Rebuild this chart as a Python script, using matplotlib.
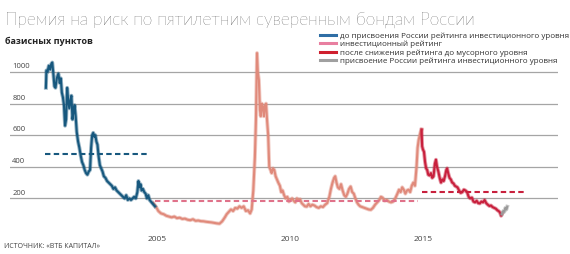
import matplotlib
matplotlib.use("Agg")
import matplotlib.pyplot as plt
from matplotlib.lines import Line2D

plt.rcParams['font.family'] = ['Open Sans', 'DejaVu Sans']

# CDS spread, basis points
blue_years = [2000.82, 2000.84, 2000.88, 2000.93, 2000.98, 2001.02, 2001.06, 2001.10, 2001.14, 2001.18,
              2001.23, 2001.29, 2001.34, 2001.38, 2001.42, 2001.46, 2001.50, 2001.54, 2001.58, 2001.62,
              2001.66, 2001.70, 2001.74, 2001.78, 2001.82, 2001.86, 2001.90, 2001.94, 2001.98, 2002.03,
              2002.08, 2002.13, 2002.18, 2002.23, 2002.28, 2002.33, 2002.38, 2002.43, 2002.48, 2002.52,
              2002.56, 2002.60, 2002.64, 2002.68, 2002.72, 2002.76, 2002.80, 2002.85, 2002.90, 2002.95,
              2003.00, 2003.06, 2003.12, 2003.18, 2003.24, 2003.30, 2003.36, 2003.42, 2003.48, 2003.54,
              2003.60, 2003.66, 2003.72, 2003.78, 2003.84, 2003.90, 2003.96, 2004.02, 2004.08, 2004.14,
              2004.20, 2004.26, 2004.30, 2004.34, 2004.38, 2004.42, 2004.47, 2004.52, 2004.57, 2004.62,
              2004.67, 2004.72, 2004.77, 2004.82, 2004.87, 2004.92]
blue_vals = [900, 1010, 1000, 1040, 1015, 1050, 1060, 990, 910, 900,
             960, 990, 930, 960, 870, 840, 790, 660, 700, 900,
             820, 770, 820, 850, 700, 750, 790, 720, 620, 560,
             520, 470, 430, 410, 380, 360, 350, 370, 380, 520,
             600, 615, 590, 600, 560, 540, 470, 410, 390, 370,
             340, 330, 310, 300, 290, 280, 260, 270, 250, 240,
             230, 220, 210, 200, 220, 190, 200, 190, 200, 210,
             200, 240, 310, 270, 290, 250, 260, 240, 230, 200,
             220, 190, 180, 170, 160, 150]

pink_years = [2004.86, 2004.95, 2005.05, 2005.15, 2005.25, 2005.35, 2005.45, 2005.55, 2005.65, 2005.75,
              2005.85, 2005.95, 2006.05, 2006.15, 2006.25, 2006.35, 2006.45, 2006.55, 2006.65, 2006.75,
              2006.85, 2006.95, 2007.05, 2007.15, 2007.25, 2007.35, 2007.45, 2007.55, 2007.62, 2007.70,
              2007.78, 2007.86, 2007.94, 2008.02, 2008.10, 2008.18, 2008.26, 2008.34, 2008.42, 2008.50,
              2008.56, 2008.62, 2008.68, 2008.72, 2008.76, 2008.79, 2008.83, 2008.87, 2008.90, 2008.94,
              2008.98, 2009.02, 2009.06, 2009.10, 2009.14, 2009.18, 2009.22, 2009.27, 2009.31, 2009.36,
              2009.41, 2009.46, 2009.51, 2009.56, 2009.62, 2009.67, 2009.72, 2009.78, 2009.84, 2009.90,
              2009.96, 2010.02, 2010.08, 2010.14, 2010.20, 2010.26, 2010.32, 2010.38, 2010.44, 2010.50,
              2010.56, 2010.63, 2010.70, 2010.77, 2010.84, 2010.92, 2011.00, 2011.08, 2011.16, 2011.24,
              2011.32, 2011.40, 2011.48, 2011.54, 2011.60, 2011.66, 2011.70, 2011.75, 2011.80, 2011.86,
              2011.92, 2011.98, 2012.04, 2012.10, 2012.16, 2012.22, 2012.28, 2012.34, 2012.40, 2012.46,
              2012.52, 2012.58, 2012.64, 2012.72, 2012.80, 2012.88, 2012.96, 2013.04, 2013.12, 2013.20,
              2013.28, 2013.36, 2013.42, 2013.48, 2013.56, 2013.64, 2013.72, 2013.80, 2013.88, 2013.96,
              2014.04, 2014.10, 2014.16, 2014.22, 2014.28, 2014.34, 2014.40, 2014.46, 2014.52, 2014.58,
              2014.64, 2014.70, 2014.76, 2014.80, 2014.84, 2014.88, 2014.92, 2014.95]
pink_vals = [170, 150, 120, 105, 100, 90, 85, 80, 85, 75,
             78, 70, 72, 65, 62, 68, 58, 60, 56, 55,
             52, 50, 48, 45, 42, 40, 55, 80, 100, 115,
             130, 120, 140, 135, 150, 140, 150, 120, 125, 105,
             130, 250, 460, 700, 1120, 1000, 950, 760, 720, 800,
             780, 720, 790, 800, 690, 600, 400, 380, 360, 390,
             380, 340, 320, 300, 280, 240, 250, 220, 200, 210,
             180, 190, 200, 185, 175, 200, 190, 195, 170, 160,
             150, 148, 165, 150, 160, 155, 145, 140, 150, 145,
             160, 170, 210, 260, 300, 330, 340, 300, 270, 260,
             290, 250, 220, 210, 230, 260, 275, 240, 230, 200,
             175, 160, 150, 145, 140, 135, 130, 128, 140, 160,
             175, 190, 210, 205, 185, 190, 180, 175, 180, 200,
             230, 255, 240, 270, 255, 230, 250, 255, 240, 280,
             300, 280, 400, 520, 570, 600, 625, 635]

red_years = [2014.95, 2014.97, 2015.00, 2015.04, 2015.08, 2015.12, 2015.16, 2015.20, 2015.25, 2015.30,
             2015.35, 2015.40, 2015.45, 2015.49, 2015.53, 2015.58, 2015.63, 2015.68, 2015.73, 2015.78,
             2015.83, 2015.88, 2015.91, 2015.95, 2016.00, 2016.05, 2016.10, 2016.15, 2016.20, 2016.25,
             2016.30, 2016.36, 2016.42, 2016.48, 2016.54, 2016.60, 2016.66, 2016.72, 2016.78, 2016.84,
             2016.90, 2016.96, 2017.02, 2017.08, 2017.14, 2017.20, 2017.26, 2017.32, 2017.38, 2017.44,
             2017.50, 2017.56, 2017.62, 2017.68, 2017.74, 2017.80, 2017.86, 2017.90, 2017.94, 2017.97]
red_vals = [635, 530, 510, 495, 430, 390, 380, 350, 345, 360,
            330, 340, 420, 445, 400, 370, 330, 300, 320, 310,
            340, 380, 390, 360, 330, 320, 300, 295, 280, 275,
            270, 250, 235, 240, 255, 250, 240, 210, 200, 205,
            180, 175, 185, 170, 168, 180, 175, 190, 170, 160,
            152, 155, 145, 140, 135, 125, 118, 110, 90, 100]

gray_years = [2017.97, 2018.02, 2018.06, 2018.10, 2018.14, 2018.17]
gray_vals = [100, 120, 115, 140, 130, 148]

# average levels for each period
avg_vals = [481, 185, 242]
avg_start = [2000.80, 2004.92, 2014.95]
avg_end = [2004.75, 2014.81, 2018.90]
avg_colors = ['#17587e', '#e0728a', '#c8203d']

grid_vals = [200, 400, 600, 800, 1000]
year_ticks = [2005, 2010, 2015]

legend_labels = ['до присвоения России рейтинга инвестиционного уровня',
                 'инвестиционный рейтинг',
                 'после снижения рейтинга до мусорного уровня',
                 'присвоение России рейтинга инвестиционного уровня']
legend_colors = ['#2f6ea5', '#e87fa0', '#cf1f2e', '#a0a0a0']

fig = plt.figure(figsize=(5.7, 2.54), dpi=100)
ax = fig.add_axes([10 / 570, 24 / 254, 548 / 570, 181.7 / 254])
ax.set_xlim(1999.47, 2020.08)
ax.set_ylim(0, 1150)
for s in ax.spines.values():
    s.set_visible(False)

ax.set_yticks(grid_vals)
ax.set_yticklabels([])
ax.grid(axis='y', color='#a5a5a5', lw=0.9)
ax.set_axisbelow(True)
ax.set_xticks(year_ticks)
ax.set_xticklabels([str(y) for y in year_ticks])
ax.tick_params(length=0, labelsize=6, colors='#444444', pad=4.5)
for v in grid_vals:
    ax.text(0.004, v + 12, str(v), transform=ax.get_yaxis_transform(),
            fontsize=5.5, color='#444444', ha='left', va='bottom')

# a soft wide stroke under each line gives the fuzzy look of daily data
series = [(pink_years, pink_vals, '#e08a7b'), (blue_years, blue_vals, '#17587e'),
          (red_years, red_vals, '#c8203d'), (gray_years, gray_vals, '#9a9a9a')]
for xs, ys, c in series:
    ax.plot(xs, ys, color=c, lw=2.8, alpha=0.45, solid_joinstyle='round')
    ax.plot(xs, ys, color=c, lw=1.5, solid_joinstyle='round')

for v, x0, x1, c in zip(avg_vals, avg_start, avg_end, avg_colors):
    ax.plot([x0, x1], [v, v], color=c, lw=1.5, dashes=(2.6, 1.6))

fig.text(5 / 570, 1 - 25 / 254, 'Премия на риск по пятилетним суверенным бондам России',
         fontsize=12.5, fontweight='light', color='#111111', va='baseline',
         family=['Lato', 'Open Sans', 'DejaVu Sans'])
fig.text(5 / 570, 1 - 44 / 254, 'базисных пунктов', fontsize=6.5, fontweight='bold',
         color='#222222', va='baseline')
fig.text(4 / 570, 1 - 248 / 254, 'ИСТОЧНИК: «ВТБ КАПИТАЛ»', fontsize=5, color='#444444',
         va='baseline')

handles = [Line2D([0], [0], color=c, lw=2.2) for c in legend_colors]
fig.legend(handles, legend_labels, loc='upper left', bbox_to_anchor=(320 / 570, 1 - 32 / 254),
           frameon=False, fontsize=5.8, labelspacing=0.1, handlelength=2.0,
           handletextpad=0.5, borderpad=0, borderaxespad=0, labelcolor='#333333')

fig.savefig('out.png', dpi=100)
